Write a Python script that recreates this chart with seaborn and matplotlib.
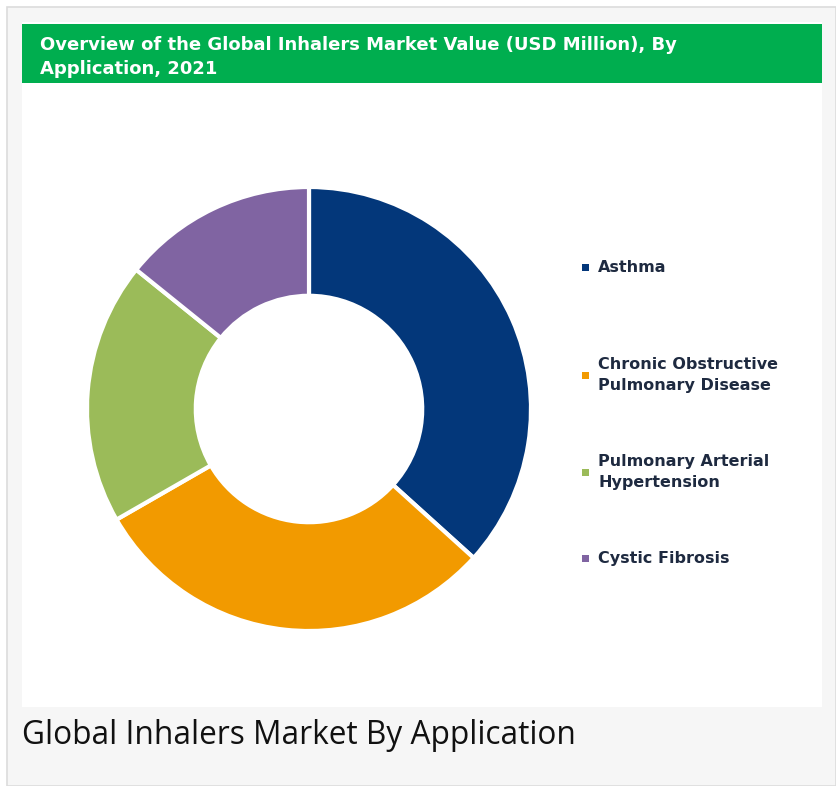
import matplotlib
matplotlib.use("Agg")
import matplotlib.pyplot as plt
from matplotlib.patches import Rectangle
import seaborn as sns

# data (share of market, %)
applications = ["Asthma", "Chronic Obstructive\nPulmonary Disease",
                "Pulmonary Arterial\nHypertension", "Cystic Fibrosis"]
shares = [36.7, 30.0, 19.1, 14.2]
colors = ["#03377A", "#F29A00", "#9BBB59", "#8064A2"]

title = "Overview of the Global Inhalers Market Value (USD Million), By\nApplication, 2021"
caption = "Global Inhalers Market By Application"

sns.set_theme(style="white")
plt.rcParams['font.family'] = ['DejaVu Sans']

W, H = 836, 786
fig = plt.figure(figsize=(W / 100, H / 100), dpi=100, facecolor="white")


def px(x, y):
    return x / W, 1 - y / H


# card background and frame
fig.add_artist(Rectangle(px(7, 786), 829 / W, 779 / H, transform=fig.transFigure,
                         facecolor="#f6f6f6", edgecolor="#dcdcdc", lw=1.2, zorder=-3))
fig.add_artist(Rectangle(px(22, 707), 800 / W, 685 / H, transform=fig.transFigure,
                         facecolor="white", edgecolor="none", zorder=-2))
fig.add_artist(Rectangle(px(22, 83), 800 / W, 59 / H, transform=fig.transFigure,
                         facecolor="#00AE4F", edgecolor="none", zorder=-2))
fig.text(*px(40, 57), title, color="white", fontsize=13, fontweight="bold",
         va="center", ha="left", linespacing=1.45)
fig.text(*px(22, 735), caption, color="#111111", fontsize=22.8, va="center", ha="left",
         family=["Open Sans", "DejaVu Sans"])

# donut
cx, cy, r = 309, 409, 222
ax = fig.add_axes([(cx - r) / W, 1 - (cy + r) / H, 2 * r / W, 2 * r / H])
ax.set_zorder(2)
wedges, _ = ax.pie(shares, colors=colors, startangle=90, counterclock=False,
                   radius=1, wedgeprops=dict(width=0.49, edgecolor="white", linewidth=3))
ax.set_xlim(-1, 1)
ax.set_ylim(-1, 1)
ax.set_aspect("equal")
ax.axis("off")

# legend
leg_y = [267, 375, 472, 558]
for lab, col, y in zip(applications, colors, leg_y):
    fig.add_artist(Rectangle(px(582, y + 4), 7 / W, 7 / H, transform=fig.transFigure,
                             facecolor=col, edgecolor="none"))
    fig.text(*px(598, y), lab, color="#1E2A40", fontsize=11.5, fontweight="bold",
             va="center", ha="left", linespacing=1.45)

fig.savefig("out.png", dpi=100, facecolor="white")
